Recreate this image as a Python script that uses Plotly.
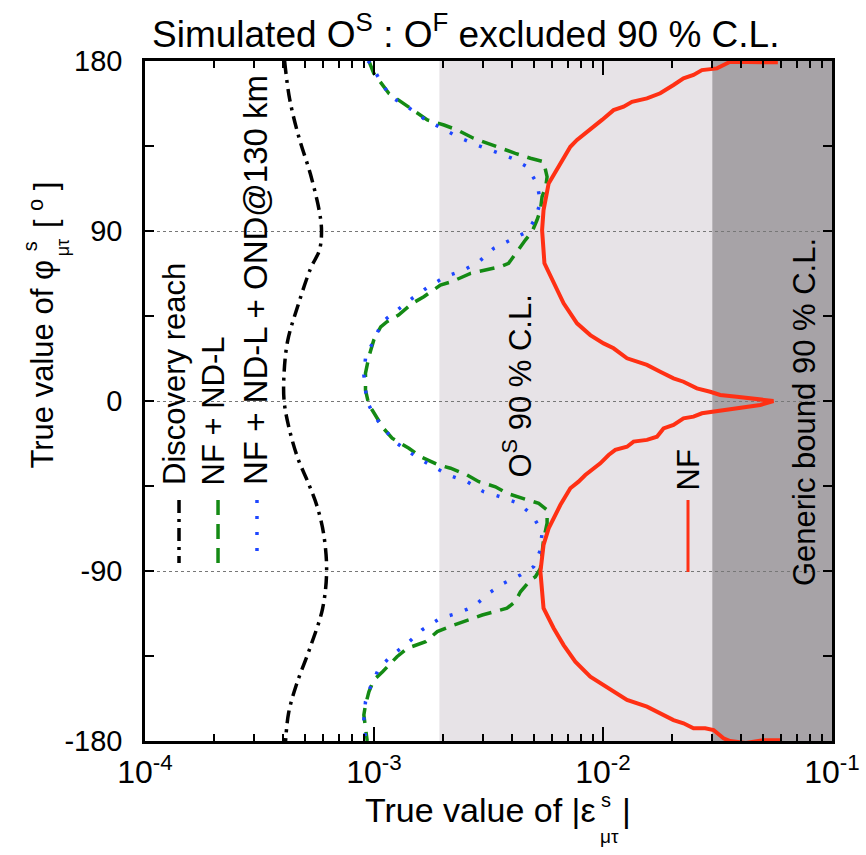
import plotly.graph_objects as go

# ---- data -------------------------------------------------------------
# Discovery reach (black dash-dot)
disc_phi = [180, 160, 140, 120, 100, 90, 80, 70, 50, 32, 15, 0, -14, -30, -44,
            -56, -70, -90, -110, -130, -150, -165, -180]
disc_eps = [0.000407, 0.000428, 0.000469, 0.000528, 0.000578, 0.00059, 0.000578,
            0.000528, 0.000464, 0.00042, 0.000405, 0.000405, 0.000425, 0.000464,
            0.000519, 0.000565, 0.000602, 0.000621, 0.000596, 0.000528, 0.000459,
            0.000424, 0.000411]

# NF + ND-L (green dashed)
ndl_phi = [180, 173.5, 162.9, 159.3, 153.2, 148.8, 146.1, 143.5, 139.1, 136.4, 133.8,
           131.1, 128.5, 126.7, 118.7, 113.4, 108.2, 101.1, 95.8, 89.6, 85.2, 81.7,
           75.5, 72.9, 71.1, 69.3, 67.6, 63.2, 61.4, 55.2, 51.7, 45.5, 42.0, 39.3,
           32.3, 23.5, 14.7, 5.8, -2.1, -4.8, -14.5, -19.7, -25.0, -29.5, -33.9,
           -35.6, -39.2, -42.7, -45.4, -48.9, -52.4, -54.2, -57.7, -64.7, -73.6,
           -81.5, -88.6, -93.0, -94.8, -101.0, -106.2, -109.7, -111.5, -113.3,
           -115.9, -118.6, -122.1, -127.4, -130.9, -135.4, -143.3, -147.7, -153.9,
           -160.9, -166.2, -173.3, -180]
ndl_eps = [0.00095, 0.000998, 0.00116, 0.00128, 0.00152, 0.00171, 0.00202, 0.00231,
           0.00272, 0.00312, 0.00362, 0.00414, 0.00482, 0.0055, 0.0057, 0.00562,
           0.00542, 0.00533, 0.00515, 0.0049, 0.00458, 0.00436, 0.00401, 0.00387,
           0.00356, 0.00301, 0.00264, 0.00219, 0.00195, 0.00165, 0.00147, 0.00128,
           0.00114, 0.00107, 0.000998, 0.00095, 0.000918, 0.000918, 0.00095,
           0.000982, 0.0011, 0.0012, 0.00142, 0.0016, 0.00192, 0.00216, 0.00255,
           0.00287, 0.00339, 0.00381, 0.00466, 0.00524, 0.0057, 0.0057, 0.0055,
           0.00542, 0.00533, 0.00507, 0.00482, 0.00436, 0.00414, 0.00381, 0.00333,
           0.00297, 0.00259, 0.00223, 0.00189, 0.00168, 0.0014, 0.00126, 0.00109,
           0.000998, 0.00095, 0.000918, 0.000903, 0.000918, 0.000934]

# NF + ND-L + OND@130 km (blue dotted)
ond_phi = [180, 178.8, 170.8, 161.1, 155.8, 148.8, 144.4, 139.6, 135.5, 132.0, 128.5,
           124.0, 115.2, 105.5, 96.7, 89.6, 85.2, 80.8, 73.7, 69.3, 65.8, 60.5, 54.4,
           48.2, 42.0, 32.3, 22.6, 13.8, 4.1, 0, -7.4, -14.5, -22.4, -28.6, -33.9,
           -39.2, -42.7, -48.0, -50.7, -54.2, -60.3, -69.2, -78.9, -87.7, -92.1,
           -96.5, -101.8, -108.9, -112.4, -115.0, -121.2, -128.3, -134.5, -141.5,
           -151.2, -159.2, -168.9, -178.6, -180]
ond_eps = [0.00094, 0.000966, 0.00105, 0.00118, 0.0014, 0.00168, 0.00198, 0.00234,
           0.00282, 0.00339, 0.00401, 0.00466, 0.00515, 0.00533, 0.00507, 0.00466,
           0.00394, 0.00333, 0.00287, 0.00246, 0.00205, 0.00173, 0.00147, 0.00126,
           0.00109, 0.000998, 0.000918, 0.000903, 0.000918, 0.00093, 0.000998,
           0.0011, 0.00126, 0.00149, 0.00176, 0.00212, 0.00255, 0.00301, 0.00356,
           0.00428, 0.0049, 0.00542, 0.00533, 0.00498, 0.00436, 0.00368, 0.00317,
           0.00272, 0.00231, 0.00195, 0.00162, 0.0014, 0.0012, 0.00105, 0.000966,
           0.000918, 0.000903, 0.000918, 0.00092]

# NF (red solid)
nf_phi = [179.3, 179.5, 179.6, 176.1, 175.2, 172.6, 170.8, 167.3, 162.9, 160.2, 158.4,
          155.8, 154.0, 148.8, 142.6, 138.2, 134.6, 125.8, 115.2, 101.1, 90.5, 72.9,
          62.3, 51.7, 41.1, 34.9, 30.5, 27.9, 22.6, 19.1, 15.5, 12.0, 10.2, 6.7, 4.9,
          3.2, 2.3, 1.4, 0, -2.1, -3.3, -4.4, -5.3, -6.5, -8.3, -9.2, -12.7, -14.5,
          -18.9, -20.6, -21.5, -24.2, -25.9, -28.6, -33.0, -39.2, -42.7, -46.2,
          -55.1, -67.4, -76.2, -90.4, -109.7, -120.3, -129.2, -138.0, -146.0,
          -150.3, -153.9, -158.3, -161.8, -165.3, -168.9, -170.6, -173.3, -173.3,
          -174.2, -178.6, -180, -181, -179.6, -179.6]
nf_eps = [0.058, 0.046, 0.0359, 0.03145, 0.02704, 0.02484, 0.02247, 0.02032, 0.01778,
          0.01556, 0.01338, 0.0123, 0.01112, 0.0099, 0.00851, 0.0077, 0.0072, 0.00651,
          0.00579, 0.0055, 0.00542, 0.00555, 0.00609, 0.00673, 0.0077, 0.0088,
          0.01006, 0.01112, 0.01273, 0.01556, 0.01778, 0.02032, 0.02247, 0.0257,
          0.02938, 0.0325, 0.0384, 0.0454, 0.0555, 0.0486, 0.0411, 0.03475, 0.0304,
          0.02704, 0.02484, 0.02247, 0.02032, 0.01838, 0.0172, 0.01556, 0.0136,
          0.01273, 0.01132, 0.01058, 0.00973, 0.00837, 0.00782, 0.0072, 0.00651,
          0.00579, 0.0055, 0.00533, 0.0055, 0.00609, 0.00673, 0.00757, 0.0088,
          0.01006, 0.01112, 0.01273, 0.01556, 0.01778, 0.02032, 0.02247, 0.02484,
          0.02794, 0.0304, 0.0336, 0.0359, 0.042, 0.05, 0.06]

# excluded regions in |eps|
os_band = [0.00193, 0.03]       # O^S 90 % C.L.
generic_band = [0.03, 0.1]      # generic bound 90 % C.L.

x_ticks = [1e-4, 1e-3, 1e-2, 1e-1]
x_ticktext = ["10<sup>-4</sup>", "10<sup>-3</sup>", "10<sup>-2</sup>", "10<sup>-1</sup>"]
x_minor = [m * d for d in (1e-4, 1e-3, 1e-2) for m in range(2, 10)]
y_ticks = [-180, -90, 0, 90, 180]
y_ticktext = ["-180", "-90", "0", "90", "180"]
y_minor = [-135, -45, 45, 135]

# ---- style ------------------------------------------------------------
FONT = "Liberation Sans, Arial, sans-serif"
RED = "#ff3014"
GREEN = "#148a14"
BLUE = "#1e46ff"
BLACK = "#000000"
LIGHT = "#e7e3e7"
DARK = "#a7a3a7"
DASHDOT = "13px,6px,3px,6px"
DASH = "15px,9px"
DOT = "3px,13px"

fig = go.Figure()

fig.add_trace(go.Scatter(x=disc_eps, y=disc_phi, mode="lines", line_shape="spline",
                         line=dict(color=BLACK, width=3.5, dash=DASHDOT)))
fig.add_trace(go.Scatter(x=ndl_eps, y=ndl_phi, mode="lines",
                         line=dict(color=GREEN, width=3.5, dash=DASH)))
fig.add_trace(go.Scatter(x=ond_eps, y=ond_phi, mode="lines",
                         line=dict(color=BLUE, width=3.5, dash=DOT)))
fig.add_trace(go.Scatter(x=nf_eps, y=nf_phi, mode="lines",
                         line=dict(color=RED, width=4)))

shapes = [
    dict(type="rect", xref="x", yref="y", x0=os_band[0], x1=os_band[1], y0=-180, y1=180,
         fillcolor=LIGHT, line_width=0, layer="below"),
    dict(type="rect", xref="x", yref="y", x0=generic_band[0], x1=generic_band[1],
         y0=-180, y1=180, fillcolor=DARK, line_width=0, layer="below"),
]

# legend sample strokes (vertical, under the rotated labels)
def sample(x, y0, y1, color, dash, width=3):
    shapes.append(dict(type="line", xref="paper", yref="paper", x0=x, x1=x, y0=y0, y1=y1,
                       line=dict(color=color, width=width, dash=dash)))

sample(0.0495, 0.3544, 0.2618, BLACK, DASHDOT, 3.5)
sample(0.1063, 0.3544, 0.2515, GREEN, DASH, 3.5)
sample(0.1630, 0.3544, 0.2735, BLUE, DOT, 3.5)
sample(0.7904, 0.3544, 0.2485, RED, "solid", 3)

def label(text, x, y, size, angle=0, xanchor="center", yanchor="middle"):
    return dict(text=text, x=x, y=y, xref="paper", yref="paper", showarrow=False,
                textangle=angle, xanchor=xanchor, yanchor=yanchor,
                font=dict(family=FONT, size=size, color="black"))

annotations = [
    label("Simulated O<sup>S</sup> : O<sup>F</sup> excluded 90 % C.L.", 0.4672, 1.043, 37),
    label("Discovery reach", 0.0422, 0.3735, 31, -90, yanchor="bottom"),
    label("NF + ND-L", 0.1004, 0.3735, 31, -90, yanchor="bottom"),
    label("NF + ND-L + OND@130 km", 0.1601, 0.3735, 33, -90, yanchor="bottom"),
    label("O<sup>S</sup> 90 % C.L.", 0.5415, 0.3838, 31, -90, yanchor="bottom"),
    label("NF", 0.7918, 0.3662, 31, -90, yanchor="bottom"),
    label("Generic bound 90 % C.L.", 0.9593, 0.225, 31, -90, yanchor="bottom"),
    # x axis title
    label("True value of |ε", 0.6594, -0.1015, 34, xanchor="right"),
    label("s", 0.6608, -0.087, 20, xanchor="left"),
    label("μτ", 0.6594, -0.141, 19, xanchor="left"),
    label("|", 0.6914, -0.1015, 34, xanchor="left"),
    # y axis title
    label("True value of φ", -0.1485, 0.3985, 31, -90, yanchor="bottom"),
    label("s", -0.167, 0.728, 20, -90),
    label("μτ", -0.119, 0.725, 18, -90),
    label("[ <sup>o</sup> ]", -0.1485, 0.752, 31, -90, yanchor="bottom"),
]

fig.update_layout(
    width=866, height=855,
    margin=dict(l=145, r=34, t=61, b=114, autoexpand=False),
    paper_bgcolor="white", plot_bgcolor="white",
    showlegend=False,
    shapes=shapes, annotations=annotations,
    font=dict(family=FONT, color="black"),
)

fig.update_xaxes(
    type="log", range=[-4, -1], automargin=False,
    tickvals=x_ticks, ticktext=x_ticktext,
    tickfont=dict(family=FONT, size=32),
    ticks="inside", ticklen=14, tickwidth=2, tickcolor="black",
    minor=dict(tickvals=x_minor, ticks="inside", ticklen=7, tickwidth=2,
               tickcolor="black", showgrid=False),
    showline=True, linewidth=2.5, linecolor="black", mirror="ticks",
    showgrid=False, zeroline=False, ticklabelstandoff=1,
)
fig.update_yaxes(
    range=[-180, 180], automargin=False,
    tickvals=y_ticks, ticktext=y_ticktext,
    tickfont=dict(family=FONT, size=29),
    ticks="inside", ticklen=9, tickwidth=2, tickcolor="black",
    minor=dict(tickvals=y_minor, ticks="inside", ticklen=9, tickwidth=2,
               tickcolor="black", showgrid=False),
    showline=True, linewidth=2.5, linecolor="black", mirror="ticks",
    showgrid=True, gridcolor="#777777", griddash="dot", gridwidth=1.2,
    zeroline=False, ticklabelstandoff=14,
)

fig.write_html("out.html")
